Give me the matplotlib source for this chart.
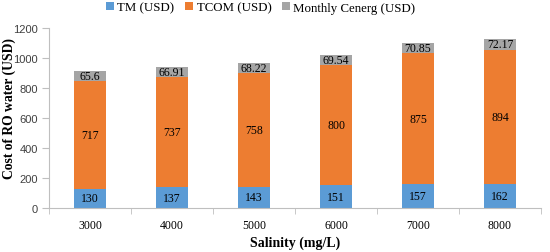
import matplotlib
matplotlib.use("Agg")
import matplotlib.pyplot as plt
import numpy as np

categories = ["3000", "4000", "5000", "6000", "7000", "8000"]
tm = [130, 137, 143, 151, 157, 162]
tcom = [717, 737, 758, 800, 875, 894]
cenerg = [65.6, 66.91, 68.22, 69.54, 70.85, 72.17]
cenerg_labels = ["65.6", "66.91", "68.22", "69.54", "70.85", "72.17"]

c_blue = "#5B9BD5"
c_orange = "#ED7D31"
c_gray = "#A5A5A5"
serif = "Liberation Serif"
sans = "Liberation Sans"

fig = plt.figure(figsize=(5.5, 2.53), dpi=100)
ax = fig.add_axes([49/550, 1 - 209/253, 492/550, 180/253])

x = np.arange(len(categories))
w = 0.39
b1 = ax.bar(x, tm, w, color=c_blue, label="TM (USD)")
b2 = ax.bar(x, tcom, w, bottom=tm, color=c_orange, label="TCOM (USD)")
bot3 = np.array(tm) + np.array(tcom)
b3 = ax.bar(x, cenerg, w, bottom=bot3, color=c_gray, label="Monthly Cenerg (USD)")

for i in range(len(x)):
    ax.text(x[i], tm[i] / 2, str(tm[i]), ha="center", va="center", fontsize=8.5, family=serif)
    ax.text(x[i], tm[i] + tcom[i] / 2, str(tcom[i]), ha="center", va="center", fontsize=8.5, family=serif)
    ax.text(x[i], bot3[i] + cenerg[i] / 2, cenerg_labels[i], ha="center", va="center", fontsize=8.5, family=serif)

ax.set_xlim(-0.5, len(x) - 0.5)
ax.set_ylim(0, 1200)
ax.set_yticks(np.arange(0, 1201, 200))
ax.set_xticks(x)
ax.set_xticklabels(categories, family=serif, fontsize=8.5)
for lab in ax.get_yticklabels():
    lab.set_family(sans)
    lab.set_fontsize(8)
    lab.set_color("#404040")
ax.set_xticks(np.arange(-0.5, len(x), 1), minor=True)
ax.tick_params(axis="x", which="major", length=0, pad=8)
ax.tick_params(axis="x", which="minor", length=4, color="#BFBFBF")
ax.tick_params(axis="y", length=5, color="#BFBFBF", pad=3)

for s in ["top", "right"]:
    ax.spines[s].set_visible(False)
for s in ["left", "bottom"]:
    ax.spines[s].set_color("#BFBFBF")
    ax.spines[s].set_linewidth(0.8)

fig.text(0.5 * (49 + 541) / 550, 1 - 243/253, "Salinity (mg/L)", ha="center", va="center",
         family=serif, fontweight="bold", fontsize=10)
fig.text(9/550, 1 - 109/253, "Cost of RO water (USD)", rotation=90, ha="center", va="center",
         family=serif, fontweight="bold", fontsize=9.8)

leg = fig.legend(handles=[b1, b2, b3], loc="upper center", bbox_to_anchor=(0.474, 1.035), ncol=3,
                 frameon=False, prop={"family": serif, "size": 9.3}, handlelength=0.6, handleheight=0.6,
                 handletextpad=0.3, columnspacing=0.8)

fig.savefig("out.png", dpi=100)
